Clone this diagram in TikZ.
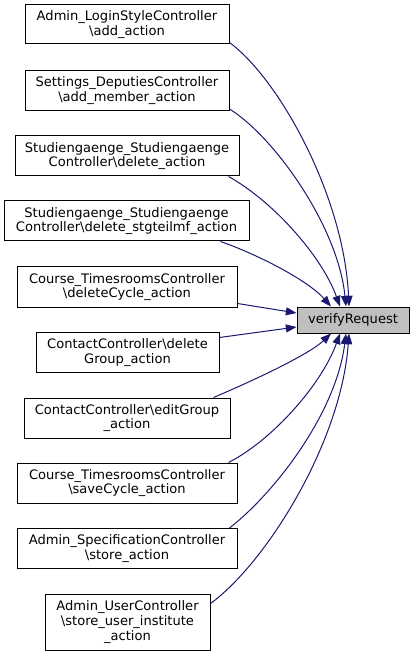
\documentclass[tikz,border=0pt]{standalone}
\usepackage{fontspec}
\setmainfont{DejaVu Sans}
\usepackage{xcolor}
\definecolor{edgeBlue}{RGB}{25,25,112}
\definecolor{rootGray}{RGB}{191,191,191}
\usepackage{tikz}
\usetikzlibrary{arrows.meta,shapes,positioning,calc}
\tikzstyle{callbox}=[rectangle, draw=black, fill=white, line width=0.75pt, align=center, inner sep=0pt, font=\fontsize{9.8}{11}\selectfont]
\tikzstyle{rootbox}=[callbox, fill=rootGray]
\tikzstyle{callarrow}=[-{Triangle[length=8pt,width=6pt]}, color=edgeBlue, line width=0.75pt]

\begin{document}
\begin{tikzpicture}[x=0.75pt, y=-0.75pt]
        \useasboundingbox (0,0) rectangle (415,655);

        % Aufrufer links
        \node[callbox, minimum width=153pt, minimum height=29.25pt] (b1) at (127,24.5) {Admin\_LoginStyleController\\\textbackslash add\_action};
        \node[callbox, minimum width=153pt, minimum height=30pt] (b2) at (127,90.5) {Settings\_DeputiesController\\\textbackslash add\_member\_action};
        \node[callbox, minimum width=168pt, minimum height=30pt] (b3) at (127,156) {Studiengaenge\_Studiengaenge\\Controller\textbackslash delete\_action};
        \node[callbox, minimum width=183.75pt, minimum height=30pt] (b4) at (126.5,221) {Studiengaenge\_Studiengaenge\\Controller\textbackslash delete\_stgteilmf\_action};
        \node[callbox, minimum width=165pt, minimum height=30pt] (b5) at (127,287) {Course\_TimesroomsController\\\textbackslash deleteCycle\_action};
        \node[callbox, minimum width=137.25pt, minimum height=30pt] (b6) at (127.5,352.5) {ContactController\textbackslash delete\\Group\_action};
        \node[callbox, minimum width=154.5pt, minimum height=30pt] (b7) at (127,418) {ContactController\textbackslash editGroup\\\_action};
        \node[callbox, minimum width=165pt, minimum height=30pt] (b8) at (127,483) {Course\_TimesroomsController\\\textbackslash saveCycle\_action};
        \node[callbox, minimum width=165pt, minimum height=30pt] (b9) at (127,548.5) {Admin\_SpecificationController\\\textbackslash store\_action};
        \node[callbox, minimum width=123.75pt, minimum height=42pt] (b10) at (127.5,622) {Admin\_UserController\\\textbackslash store\_user\_institute\\\_action};

        % Ziel rechts
        \node[rootbox, minimum width=84pt, minimum height=19.5pt] (v) at (353,320) {verifyRequest};

        % Aufrufe oben
        \draw[callarrow] ($(b1.south east)+(0,-2)$) .. controls +(50,37) and +(-5,-110) .. ($(v.north)+(-4,0)$);
        \draw[callarrow] ($(b2.south east)+(0,-2)$) .. controls +(45,28) and +(-8,-80) .. ($(v.north)+(-7,0)$);
        \draw[callarrow] ($(b3.south east)+(-11,0)$) .. controls +(45,25) and +(-18,-50) .. ($(v.north)+(-13,0)$);
        \draw[callarrow] ($(b4.south east)+(-29,0)$) .. controls +(40,14) and +(-22,-25) .. ($(v.north)+(-22,0)$);

        % Aufrufe seitlich
        \draw[callarrow] ($(b5.south east)+(0,-4)$) -- ($(v.west)+(0,-7)$);
        \draw[callarrow] ($(b6.north east)+(0,5.5)$) -- ($(v.west)+(0,7)$);

        % Aufrufe unten
        \draw[callarrow] ($(b7.north east)+(-17,0)$) .. controls +(47,-20) and +(-21,20) .. ($(v.south)+(-22,0)$);
        \draw[callarrow] ($(b8.north east)+(-9,0)$) .. controls +(45,-23) and +(-18,50) .. ($(v.south)+(-13,0)$);
        \draw[callarrow] ($(b9.north east)+(-8,0)$) .. controls +(45,-35) and +(-10,80) .. ($(v.south)+(-7,0)$);
        \draw[callarrow] ($(b10.north east)+(0,10)$) .. controls +(55,-40) and +(-8,110) .. ($(v.south)+(-4,0)$);
      \end{tikzpicture}
\end{document}
